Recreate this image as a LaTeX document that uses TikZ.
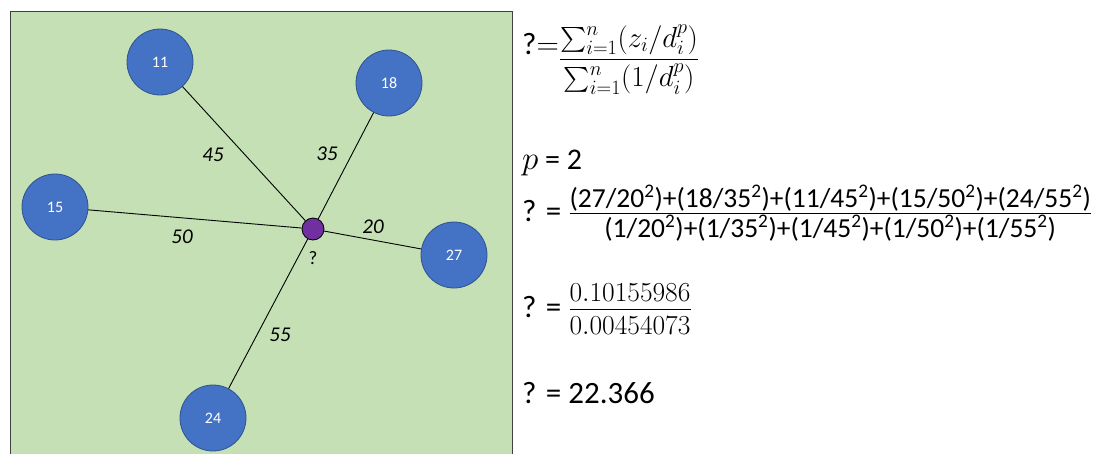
\RequirePackage{fix-cm}
\documentclass[tikz,border=0pt]{standalone}
\usepackage{amsmath}
\usepackage[no-math]{fontspec}
\setmainfont{Carlito}

\definecolor{fieldgreen}{HTML}{C5E0B4}
\definecolor{wellblue}{HTML}{4472C4}
\definecolor{wellrim}{HTML}{2F528F}
\definecolor{querypurple}{HTML}{7030A0}

\begin{document}
\begin{tikzpicture}[x=1pt, y=-1pt,
  well/.style={circle, draw=wellrim, fill=wellblue, line width=0.8pt,
    minimum size=66pt, inner sep=0pt, text=white, font=\fontsize{16}{16}\selectfont},
  target/.style={circle, draw=black, fill=querypurple, line width=0.8pt,
    minimum size=22pt, inner sep=0pt},
  dist/.style={font=\fontsize{21}{21}\selectfont\itshape},
  link/.style={draw=black, line width=0.9pt},
  eqn/.style={anchor=base west, inner sep=0pt}
]

% Page frame
\useasboundingbox (0,0) rectangle (1101,453);

% Field
\filldraw[fill=fieldgreen, draw=black!75, line width=1pt] (10,11) rectangle (512,470);

% Known points
\node[well] (w11) at (160,62) {11};
\node[well] (w18) at (389,83) {18};
\node[well] (w15) at (55,207) {15};
\node[well] (w27) at (454,255) {27};
\node[well] (w24) at (213,418) {24};

% Unknown point
\node[target] (q) at (313,229) {};
\node[font=\fontsize{19}{19}\selectfont] (qmark) at (313,258) {?};

% Distances
\foreach \w in {w11,w18,w15,w27,w24}
  \draw[link] (q) -- (\w);

\node[dist] (d11) at (213,155) {45};
\node[dist] (d18) at (327,154) {35};
\node[dist] (d15) at (182,237) {50};
\node[dist] (d27) at (373,227) {20};
\node[dist] (d24) at (280,335) {55};

% Interpolation
\node[eqn, font=\fontsize{31}{31}\selectfont] (idw) at (522,54)
  {?$=$\raisebox{-13pt}{\fontsize{29}{29}\selectfont$\displaystyle\frac{\sum_{i=1}^{n}(z_i/d_i^p)}{\sum_{i=1}^{n}(1/d_i^p)}$}};

\node[eqn, font=\fontsize{30}{30}\selectfont] (power) at (522,169) {{\fontsize{33}{33}\selectfont$p$} = 2};

\node[eqn, font=\fontsize{31}{31}\selectfont] (subst) at (522,221)
  {? = $\frac{\text{\fontsize{27.5}{27.5}\selectfont (27/20\textsuperscript{2})+(18/35\textsuperscript{2})+(11/45\textsuperscript{2})+(15/50\textsuperscript{2})+(24/55\textsuperscript{2})}}
   {\text{\fontsize{27.5}{27.5}\selectfont (1/20\textsuperscript{2})+(1/35\textsuperscript{2})+(1/45\textsuperscript{2})+(1/50\textsuperscript{2})+(1/55\textsuperscript{2})}}$};

\node[eqn, font=\fontsize{31}{31}\selectfont] (ratio) at (522,317)
  {? = $\frac{\text{\fontsize{27.5}{27.5}\selectfont$0.10155986$}\rule[-6pt]{0pt}{6pt}}{\rule{0pt}{24pt}\text{\fontsize{27.5}{27.5}\selectfont$0.00454073$}}$};

\node[eqn, font=\fontsize{31}{31}\selectfont] (result) at (522,403) {? = 22.366};

\end{tikzpicture}
\end{document}
